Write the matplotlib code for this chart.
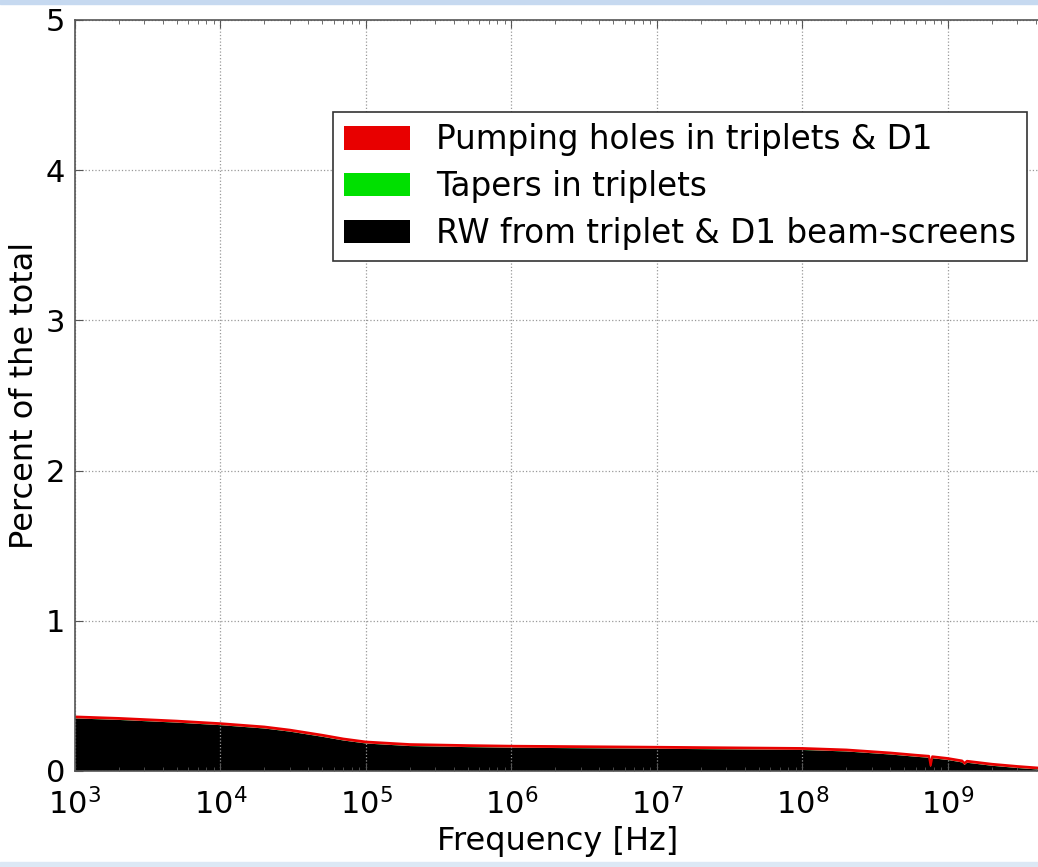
import matplotlib
matplotlib.use("Agg")
import matplotlib.pyplot as plt
from matplotlib.patches import Rectangle
import numpy as np

plt.rcParams['font.family'] = ['DejaVu Sans']
plt.rcParams['mathtext.fontset'] = 'dejavusans'

freq = [1e3, 2e3, 5e3, 1e4, 2e4, 3e4, 5e4, 7e4, 1e5, 2e5, 5e5, 1e6, 1e7, 1e8,
        2e8, 4e8, 6e8, 7.4e8, 7.6e8, 7.8e8, 1e9, 1.25e9, 1.3e9, 1.35e9,
        2e9, 3e9, 4.4e9]
rw = [0.350, 0.340, 0.322, 0.305, 0.283, 0.262, 0.228, 0.203, 0.183, 0.166,
      0.159, 0.155, 0.148, 0.140, 0.130, 0.110, 0.095, 0.088, 0.025, 0.085,
      0.073, 0.057, 0.040, 0.055, 0.035, 0.020, 0.008]
tapers = [0.001] * len(freq)
pumping = [0.011] * len(freq)

labels = ["RW from triplet & D1 beam-screens", "Tapers in triplets",
          "Pumping holes in triplets & D1"]
colors = ["#000000", "#00e000", "#e80000"]

fig = plt.figure(figsize=(10.38, 8.67), dpi=100)
ax_w = 1.003 - 75/1038
ax = fig.add_axes([75/1038, 1-771/867, ax_w, (771-20)/867])

ax.stackplot(freq, rw, tapers, pumping, colors=colors, linewidth=0)
top = np.array(rw) + np.array(tapers) + np.array(pumping)
ax.plot(freq, top, color="#e80000", lw=1.6)

ax.set_xscale("log")
ax.set_xlim(1e3, 10**9.64)
ax.set_ylim(0, 5)
ax.set_yticks([0, 1, 2, 3, 4, 5])
ax.set_xticks([1e3, 1e4, 1e5, 1e6, 1e7, 1e8, 1e9])
ax.grid(True, which="major", linestyle=":", color="#999999", lw=0.9)
ax.tick_params(axis="both", which="both", direction="in", top=True, right=False,
               labelsize=22, colors="#555555", labelcolor="black")
ax.tick_params(axis="both", which="major", length=6)
ax.tick_params(axis="x", which="major", pad=12)
ax.tick_params(axis="y", which="major", pad=7)
ax.tick_params(axis="both", which="minor", length=3)
for s in ax.spines.values():
    s.set_color("#555555")
    s.set_linewidth(1.2)

ax.set_xlabel("Frequency [Hz]", fontsize=23, labelpad=4)
ax.set_ylabel("Percent of the total", fontsize=23, labelpad=4)

handles = [Rectangle((0, 0), 1, 1, fc=colors[2]), Rectangle((0, 0), 1, 1, fc=colors[1]),
           Rectangle((0, 0), 1, 1, fc=colors[0])]
leg = ax.legend(handles, [labels[2], labels[1], labels[0]], loc="upper left",
                bbox_to_anchor=((333-75)/(1038*ax_w), 1-(112-20)/751),
                fontsize=23.5, fancybox=False, framealpha=1, edgecolor="#333333",
                handlelength=2.0, handleheight=0.72, handletextpad=0.8,
                labelspacing=0.42, borderpad=0.35, borderaxespad=0)
leg.get_frame().set_linewidth(1.2)

fig.patches.append(Rectangle((0, 1-4/867), 1, 4/867, transform=fig.transFigure,
                             color="#c6d9f0", zorder=10))
fig.patches.append(Rectangle((0, 0), 1, 5/867, transform=fig.transFigure,
                             color="#dce8f5", zorder=10))

fig.savefig("out.png", dpi=100)
